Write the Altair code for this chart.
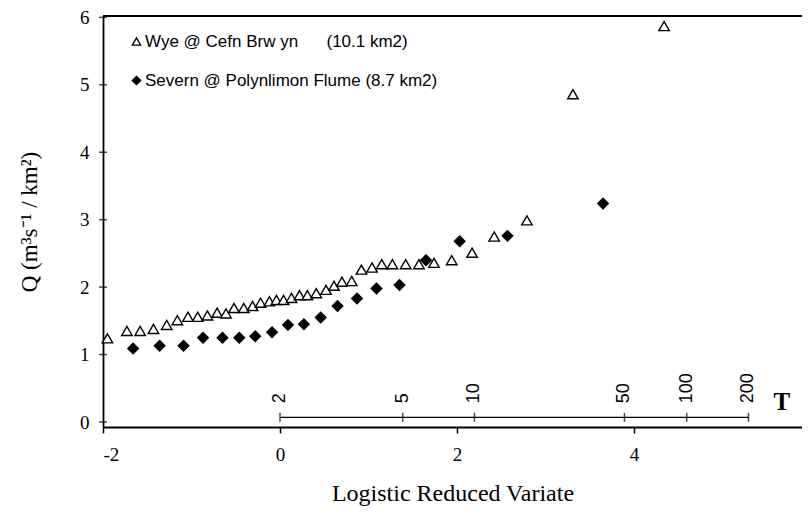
import altair as alt
import numpy as np
import pandas as pd

# --- data ---
wye_x = [-1.95, -1.73, -1.58, -1.43, -1.28, -1.16, -1.04, -0.93, -0.82, -0.71,
         -0.61, -0.52, -0.41, -0.31, -0.22, -0.12, -0.04, 0.04, 0.13, 0.22,
         0.31, 0.41, 0.52, 0.61, 0.70, 0.81, 0.92, 1.04, 1.15, 1.27,
         1.42, 1.57, 1.74, 1.94, 2.17, 2.42, 2.79, 3.31, 4.34]
wye_y = [1.24, 1.35, 1.35, 1.38, 1.44, 1.51, 1.56, 1.56, 1.58, 1.62,
         1.61, 1.69, 1.69, 1.72, 1.77, 1.79, 1.81, 1.81, 1.84, 1.88,
         1.88, 1.91, 1.96, 2.02, 2.08, 2.09, 2.26, 2.29, 2.34, 2.34,
         2.34, 2.34, 2.36, 2.40, 2.51, 2.75, 2.99, 4.86, 5.87]

sev_x = [-1.66, -1.36, -1.09, -0.87, -0.65, -0.46, -0.28, -0.09, 0.09,
         0.27, 0.46, 0.65, 0.87, 1.09, 1.35, 1.65, 2.03, 2.57, 3.65]
sev_y = [1.09, 1.13, 1.13, 1.25, 1.25, 1.25, 1.27, 1.33, 1.44,
         1.45, 1.55, 1.72, 1.83, 1.98, 2.03, 2.40, 2.68, 2.76, 3.24]

wye_label = "Wye @ Cefn Brw yn" + "\u00a0" * 6 + "(10.1 km2)"
sev_label = "Severn @ Polynlimon Flume (8.7 km2)"

# return periods of the secondary T scale (logistic: y = ln(T - 1))
T_values = [2, 5, 10, 50, 100, 200]
T_line_y = 0.07
y_ticks = [0, 1, 2, 3, 4, 5, 6]
x_ticks = [-2, 0, 2, 4]

X_DOM = [-2, 5.898]
Y_DOM = [-0.074, 6.02]
W, H = 699, 411

pts = pd.concat([
    pd.DataFrame({"x": wye_x, "y": wye_y, "series": wye_label}),
    pd.DataFrame({"x": sev_x, "y": sev_y, "series": sev_label}),
])
tdf = pd.DataFrame({"T": T_values, "pos": np.log(np.array(T_values) - 1.0),
                    "label": [str(t) for t in T_values], "y": T_line_y})
ytk = pd.DataFrame({"y": y_ticks, "x": X_DOM[0]})

xs = alt.Scale(domain=X_DOM, nice=False, zero=False)
ys = alt.Scale(domain=Y_DOM, nice=False, zero=False)

serif = "Liberation Serif"
sans = "Liberation Sans"
series_dom = [wye_label, sev_label]

leg = alt.Legend(title=None, orient="none", legendX=25, legendY=17,
                 labelFont=sans, labelFontSize=17, labelColor="black", labelLimit=0,
                 symbolSize=70, symbolStrokeWidth=1.3, rowPadding=21,
                 padding=0, labelOffset=0)

points = alt.Chart(pts).mark_point(strokeWidth=1.4, opacity=1, size=110).encode(
    x=alt.X("x:Q", scale=xs,
            axis=alt.Axis(title="Logistic Reduced Variate", values=x_ticks,
                          labelExpr="'' + datum.value",
                          grid=False, tickSize=6, tickColor="black", tickWidth=1.5,
                          domainColor="black", domainWidth=1.8,
                          labelFont=serif, labelFontSize=19, labelColor="black",
                          labelPadding=12, titleFont=serif, titleFontSize=24,
                          titleFontWeight="normal", titleColor="black", titlePadding=17)),
    y=alt.Y("y:Q", scale=ys,
            axis=alt.Axis(title="Q (m³s⁻¹ / km²)", values=y_ticks, grid=False,
                          labelExpr="'' + datum.value",
                          ticks=False, domainColor="black", domainWidth=1.8,
                          labelFont=serif, labelFontSize=19, labelColor="black",
                          labelPadding=14, titleFont=serif, titleFontSize=23,
                          titleFontWeight="normal", titleColor="black", titlePadding=38)),
    shape=alt.Shape("series:N",
                    scale=alt.Scale(domain=series_dom, range=["triangle-up", "diamond"]),
                    legend=leg),
    fill=alt.Fill("series:N",
                  scale=alt.Scale(domain=series_dom, range=["white", "black"]),
                  legend=leg),
    stroke=alt.Stroke("series:N",
                      scale=alt.Scale(domain=series_dom, range=["black", "black"]),
                      legend=leg),
)

# crossing tick marks on the y axis
yticks = alt.Chart(ytk).mark_tick(orient="horizontal", size=8, thickness=1.5, color="black").encode(
    x=alt.X("x:Q", scale=xs), y=alt.Y("y:Q", scale=ys))

# secondary return-period axis
tline = alt.Chart(tdf).mark_rule(color="black", strokeWidth=1.3).encode(
    x=alt.X("min(pos):Q", scale=xs), x2="max(pos):Q", y=alt.Y("mean(y):Q", scale=ys))
tticks = alt.Chart(tdf).mark_tick(orient="vertical", size=9, thickness=1.5, color="black").encode(
    x=alt.X("pos:Q", scale=xs), y=alt.Y("y:Q", scale=ys))
tlabels = alt.Chart(tdf).mark_text(angle=270, align="left", baseline="middle", dx=14,
                                   font=sans, fontSize=18, color="black").encode(
    x=alt.X("pos:Q", scale=xs), y=alt.Y("y:Q", scale=ys), text="label:N")
tname = alt.Chart(tdf[tdf["T"] == T_values[-1]]).mark_text(
    text="T", align="left", baseline="middle", dx=25, dy=-15, font=serif,
    fontSize=25, fontWeight="bold", color="black").encode(
    x=alt.X("pos:Q", scale=xs), y=alt.Y("y:Q", scale=ys))

# top frame line
topline = alt.Chart(tdf).mark_rule(color="black", strokeWidth=2).encode(
    x=alt.value(0), x2=alt.value(W), y=alt.value(0))

chart = alt.layer(points, yticks, tline, tticks, tlabels, tname, topline).properties(
    width=W, height=H,
    autosize=alt.AutoSizeParams(type="none"),
    padding={"left": 95, "top": 8, "right": 0, "bottom": 82},
).configure_view(stroke=None).configure(background="white")

chart.save("out.html", embed_options={"renderer": "svg", "actions": False})
